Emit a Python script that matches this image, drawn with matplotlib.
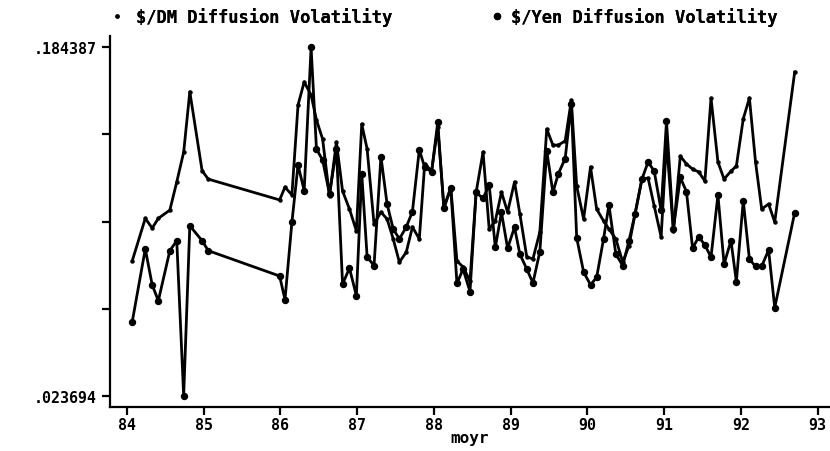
import numpy as np
import matplotlib
matplotlib.use("Agg")
import matplotlib.pyplot as plt
from matplotlib.lines import Line2D

# monthly observations, gap between early 85 and 86
moyr = [84.07, 84.24, 84.33, 84.41, 84.56, 84.65, 84.74, 84.82, 84.98, 85.06,
        85.99, 86.06, 86.15, 86.23, 86.31, 86.40, 86.47, 86.55, 86.64, 86.73, 86.81, 86.90, 86.99,
        87.06, 87.13, 87.22, 87.31, 87.39, 87.47, 87.55, 87.64, 87.72, 87.81, 87.88, 87.97,
        88.05, 88.13, 88.22, 88.30, 88.38, 88.47, 88.55, 88.64, 88.72, 88.80, 88.88, 88.96,
        89.05, 89.12, 89.21, 89.29, 89.38, 89.47, 89.55, 89.62, 89.71, 89.79, 89.86, 89.95,
        90.04, 90.12, 90.21, 90.28, 90.37, 90.46, 90.54, 90.62, 90.71, 90.79, 90.87, 90.96,
        91.03, 91.12, 91.21, 91.29, 91.37, 91.45, 91.53, 91.61, 91.70, 91.78, 91.87, 91.94,
        92.03, 92.11, 92.19, 92.27, 92.36, 92.44, 92.70]

dm_vol = [0.0859, 0.1055, 0.1010, 0.1055, 0.1093, 0.1223, 0.1360, 0.1639, 0.1275, 0.1236,
          0.1140, 0.1199, 0.1163, 0.1578, 0.1684, 0.1624, 0.1509, 0.1421, 0.1158, 0.1407, 0.1181, 0.1098, 0.0997,
          0.1490, 0.1375, 0.1029, 0.1084, 0.1052, 0.0960, 0.0853, 0.0899, 0.1015, 0.0960, 0.1306, 0.1273,
          0.1476, 0.1107, 0.1197, 0.0858, 0.0831, 0.0766, 0.1175, 0.1361, 0.1006, 0.1043, 0.1176, 0.1084,
          0.1223, 0.1075, 0.0877, 0.0868, 0.0992, 0.1467, 0.1393, 0.1393, 0.1412, 0.1600, 0.1204, 0.1052,
          0.1292, 0.1098, 0.1043, 0.1006, 0.0960, 0.0853, 0.0927, 0.1075, 0.1236, 0.1241, 0.1112, 0.0969,
          0.1407, 0.0997, 0.1342, 0.1306, 0.1282, 0.1269, 0.1227, 0.1610, 0.1315, 0.1236, 0.1273, 0.1296,
          0.1514, 0.1610, 0.1315, 0.1098, 0.1121, 0.1038, 0.1730]

yen_vol = [0.0578, 0.0914, 0.0748, 0.0675, 0.0906, 0.0952, 0.0237, 0.1021, 0.0952, 0.0906,
           0.0789, 0.0680, 0.1037, 0.1301, 0.1183, 0.1844, 0.1375, 0.1324, 0.1167, 0.1375, 0.0752, 0.0825, 0.0698,
           0.1260, 0.0877, 0.0837, 0.1340, 0.1121, 0.1006, 0.0960, 0.1015, 0.1086, 0.1372, 0.1290, 0.1270,
           0.1498, 0.1101, 0.1194, 0.0755, 0.0821, 0.0717, 0.1175, 0.1147, 0.1210, 0.0921, 0.1083, 0.0917,
           0.1014, 0.0890, 0.0821, 0.0757, 0.0901, 0.1366, 0.1175, 0.1260, 0.1331, 0.1582, 0.0965, 0.0808,
           0.0748, 0.0783, 0.0960, 0.1117, 0.0890, 0.0837, 0.0950, 0.1075, 0.1236, 0.1315, 0.1273, 0.1092,
           0.1504, 0.1006, 0.1244, 0.1178, 0.0917, 0.0970, 0.0932, 0.0876, 0.1163, 0.0844, 0.0952, 0.0763,
           0.1136, 0.0867, 0.0833, 0.0834, 0.0909, 0.0643, 0.1081]

y_min, y_max = 0.023694, 0.184387
ytick_labels = [".023694", "", "", "", ".184387"]
xticks = [84, 85, 86, 87, 88, 89, 90, 91, 92, 93]
legend_labels = ["$/DM Diffusion Volatility", "$/Yen Diffusion Volatility"]

plt.rcParams["font.family"] = "DejaVu Sans Mono"
plt.rcParams["font.weight"] = "bold"

fig = plt.figure(figsize=(8.3, 4.52), dpi=100)
ax = fig.add_axes([0.1325, 0.0973, 0.8675, 0.8208])

ax.plot(moyr, dm_vol, color="black", lw=2.0, marker="o", ms=2.2)
ax.plot(moyr, yen_vol, color="black", lw=2.0, marker="o", ms=4.3)

step = (y_max - y_min) / 4
ax.set_ylim(y_min - 0.13 * step, y_max + 0.13 * step)
ax.set_xlim(83.78, 93.16)
ax.set_yticks(np.linspace(y_min, y_max, 5))
ax.set_yticklabels(ytick_labels)
ax.set_xticks(xticks)
ax.set_xticklabels([str(t) for t in xticks])

for s in ["top", "right"]:
    ax.spines[s].set_visible(False)
for s in ["left", "bottom"]:
    ax.spines[s].set_linewidth(1.6)
ax.tick_params(direction="out", length=6, width=1.6, labelsize=10.8)
ax.tick_params(axis="x", pad=1)
ax.set_xlabel("moyr", fontsize=11.5, fontweight="bold", labelpad=-1)

# one legend per series so each key can sit where it belongs
sizes = [2.2, 4.3]
anchors = [0.1358, 0.5936]
gaps = [0.85, 0.6]
for lab, ms, x0, gap in zip(legend_labels, sizes, anchors, gaps):
    h = Line2D([], [], color="black", marker="o", ms=ms, ls="none")
    fig.add_artist(fig.legend([h], [lab], frameon=False, loc="center left",
                              bbox_to_anchor=(x0, 0.962), fontsize=12.3,
                              handlelength=0.5, handletextpad=gap,
                              borderaxespad=0, borderpad=0))

fig.savefig("out.png", dpi=100)
